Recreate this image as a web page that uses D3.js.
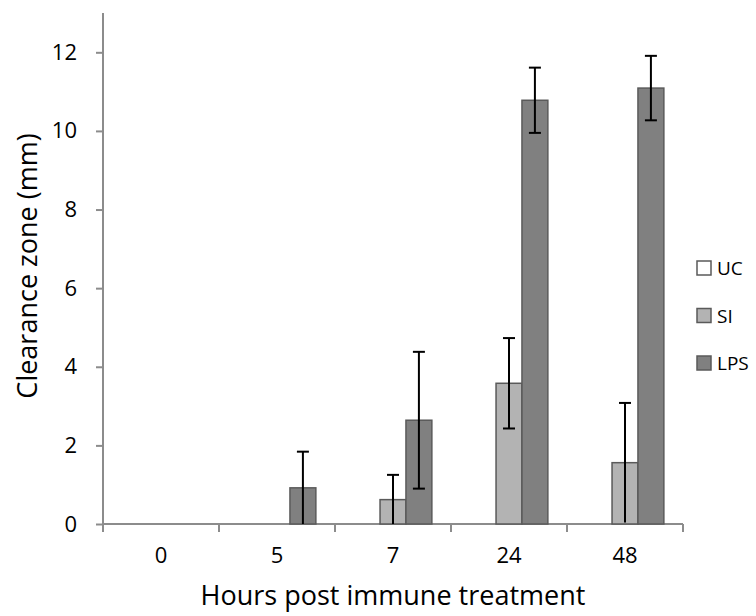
<!doctype html>
<html>
<head>
  <meta charset='utf-8'>
  <style>
    body { margin: 0; background: #fff; }
    text { font-family: 'Open Sans', Lato, sans-serif; fill: #000; }
  </style>
</head>
<body>
  <svg width='756' height='616'></svg>
  <script src='https://cdn.jsdelivr.net/npm/d3@7'></script>
  <script>
    // hours post immune treatment
    var hours = ['0', '5', '7', '24', '48'];
    var groups = ['UC', 'SI', 'LPS'];

    // clearance zone (mm)
    var ucValues = [0, 0, 0, 0, 0];
    var siValues = [0, 0, 0.62, 3.58, 1.56];
    var lpsValues = [0, 0.92, 2.64, 10.78, 11.09];

    var ucErrors = [0, 0, 0, 0, 0];
    var siErrors = [0, 0, 0.63, 1.15, 1.52];
    var lpsErrors = [0, 0.92, 1.74, 0.83, 0.82];

    var yTicks = [0, 2, 4, 6, 8, 10, 12];

    var fills = { UC: '#ffffff', SI: '#b3b3b3', LPS: '#808080' };
    var values = { UC: ucValues, SI: siValues, LPS: lpsValues };
    var errors = { UC: ucErrors, SI: siErrors, LPS: lpsErrors };

    var svg = d3.select('svg');
    var plotL = 103, plotR = 683, plotT = 13, plotB = 524;

    var x0 = d3.scaleBand().domain(hours).range([plotL, plotR]);
    var bw = x0.bandwidth();
    var x1 = d3.scaleBand().domain(groups).range([bw * 0.165, bw * 0.835]);
    var y = d3.scaleLinear().domain([0, 13]).range([plotB, plotT]);

    // flatten into one row per bar
    var rows = [];
    hours.forEach(function(h, i) {
      groups.forEach(function(g) {
        rows.push({ hour: h, group: g, value: values[g][i], err: errors[g][i] });
      });
    });

    // axes first, bars drawn over them
    var yAxis = svg.append('g')
      .attr('transform', 'translate(' + plotL + ',0)')
      .call(d3.axisLeft(y).tickValues(yTicks).tickSize(7).tickPadding(19));
    yAxis.select('.domain').attr('d', 'M0,' + plotB + 'V' + plotT);

    var xAxis = svg.append('g')
      .attr('transform', 'translate(0,' + plotB + ')')
      .call(d3.axisBottom(x0).tickSize(0).tickPadding(23));
    xAxis.select('.domain').attr('d', 'M' + plotL + ',0H' + plotR);
    xAxis.selectAll('.cat-tick')
      .data(d3.range(hours.length + 1))
      .enter().append('line')
        .attr('class', 'cat-tick')
        .attr('x1', function(i) { return plotL + i * bw; })
        .attr('x2', function(i) { return plotL + i * bw; })
        .attr('y1', 0)
        .attr('y2', 8);

    svg.selectAll('.domain, .tick line, .cat-tick')
      .attr('stroke', '#8c8c8c')
      .attr('stroke-width', 2);
    svg.selectAll('.tick text')
      .attr('font-family', "'Open Sans', sans-serif")
      .attr('font-size', 22)
      .attr('fill', '#000');

    // bars
    svg.append('g').selectAll('rect')
      .data(rows)
      .enter().append('rect')
        .attr('x', function(d) { return x0(d.hour) + x1(d.group); })
        .attr('width', x1.bandwidth())
        .attr('y', function(d) { return y(d.value); })
        .attr('height', function(d) { return y(0) - y(d.value); })
        .attr('fill', function(d) { return fills[d.group]; })
        .attr('stroke', '#5a5a5a')
        .attr('stroke-width', 1.5);

    // error bars
    var eb = svg.append('g').selectAll('g')
      .data(rows.filter(function(d) { return d.err > 0; }))
      .enter().append('g')
        .attr('stroke', '#000')
        .attr('stroke-width', 2);
    function cx(d) { return x0(d.hour) + x1(d.group) + x1.bandwidth() / 2; }
    eb.append('line')
      .attr('x1', cx).attr('x2', cx)
      .attr('y1', function(d) { return y(d.value + d.err); })
      .attr('y2', function(d) { return y(Math.max(0, d.value - d.err)); });
    eb.append('line')
      .attr('x1', function(d) { return cx(d) - 6; })
      .attr('x2', function(d) { return cx(d) + 6; })
      .attr('y1', function(d) { return y(d.value + d.err); })
      .attr('y2', function(d) { return y(d.value + d.err); });
    eb.filter(function(d) { return d.value - d.err > 0.05; })
      .append('line')
      .attr('x1', function(d) { return cx(d) - 6; })
      .attr('x2', function(d) { return cx(d) + 6; })
      .attr('y1', function(d) { return y(d.value - d.err); })
      .attr('y2', function(d) { return y(d.value - d.err); });

    // axis titles
    svg.append('text')
      .attr('x', (plotL + plotR) / 2)
      .attr('y', 605)
      .attr('text-anchor', 'middle')
      .attr('font-size', 27)
      .text('Hours post immune treatment');
    svg.append('text')
      .attr('transform', 'translate(37,266) rotate(-90)')
      .attr('text-anchor', 'middle')
      .attr('font-size', 27)
      .text('Clearance zone (mm)');

    // legend
    var legend = svg.append('g').selectAll('g')
      .data(groups)
      .enter().append('g')
        .attr('transform', function(d, i) { return 'translate(697,' + (261 + i * 47.5) + ')'; });
    legend.append('rect')
      .attr('width', 14).attr('height', 14)
      .attr('fill', function(d) { return fills[d]; })
      .attr('stroke', '#5a5a5a')
      .attr('stroke-width', 1.5);
    legend.append('text')
      .attr('x', 20).attr('y', 14)
      .attr('font-size', 19)
      .text(function(d) { return d; });
  </script>
</body>
</html>
